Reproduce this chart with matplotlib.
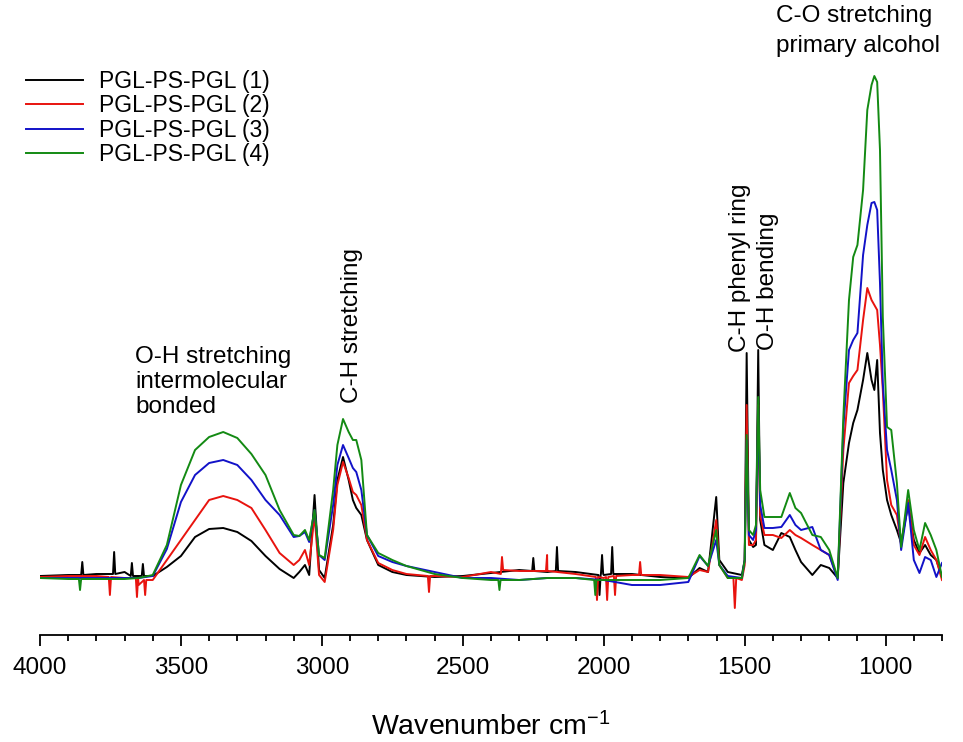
import matplotlib
matplotlib.use("Agg")
import matplotlib.pyplot as plt
import numpy as np

plt.rcParams['font.family'] = ['Liberation Sans', 'DejaVu Sans']
plt.rcParams['mathtext.fontset'] = 'custom'
plt.rcParams['mathtext.rm'] = 'Liberation Sans'
plt.rcParams['mathtext.it'] = 'Liberation Sans'

# ---- data (absorbance in arbitrary units via pixel rows) ----
wavenumber = [4000, 3900, 3800, 3700, 3650, 3600, 3550, 3500, 3450, 3400, 3350, 3300,
              3250, 3200, 3150, 3100, 3080, 3060, 3045, 3026, 3010, 2990, 2960, 2945,
              2925, 2905, 2890, 2878, 2860, 2840, 2800, 2750, 2700, 2600, 2500, 2400,
              2300, 2200, 2100, 2000, 1900, 1800, 1700, 1660, 1630, 1601, 1590, 1560,
              1510, 1500, 1493, 1485, 1470, 1460, 1452, 1445, 1430, 1400, 1370, 1340,
              1320, 1300, 1260, 1230, 1200, 1170, 1150, 1130, 1115, 1100, 1080, 1065,
              1050, 1040, 1030, 1020, 1010, 995, 980, 960, 945, 920, 900, 880, 860,
              840, 820, 800]

pix_black = [576, 575, 574, 572, 576, 576, 567, 556, 537, 529, 528, 532,
             541, 556, 569, 578, 572, 565, 575, 495, 570, 578, 525, 480,
             457, 480, 500, 508, 515, 540, 565, 572, 575, 577, 576, 573,
             570, 572, 572, 575, 574, 577, 578, 568, 572, 497, 560, 572,
             575, 560, 353, 540, 547, 545, 350, 520, 545, 550, 533, 537,
             550, 562, 575, 565, 568, 578, 483, 443, 423, 410, 380, 353,
             380, 390, 360, 433, 470, 500, 515, 530, 543, 505, 540, 553, 545,
             555, 560, 577]
pix_red = [577, 576, 576, 578, 585, 580, 560, 540, 520, 500, 496, 500,
           508, 530, 553, 565, 560, 550, 565, 515, 575, 582, 530, 485,
           462, 478, 492, 495, 505, 540, 563, 570, 574, 576, 577, 572,
           571, 571, 574, 578, 575, 575, 577, 570, 572, 520, 565, 578,
           580, 565, 405, 545, 545, 540, 405, 515, 535, 535, 538, 530,
           535, 538, 545, 550, 555, 578, 450, 383, 376, 370, 320, 288,
           300, 305, 310, 345, 390, 480, 505, 515, 545, 500, 545, 555, 537,
           550, 560, 580]
pix_blue = [578, 578, 578, 578, 578, 576, 549, 502, 475, 463, 460, 465,
            480, 500, 515, 537, 536, 532, 542, 510, 555, 560, 505, 465,
            445, 458, 468, 472, 490, 535, 556, 562, 566, 572, 578, 578,
            580, 578, 578, 580, 585, 585, 582, 556, 566, 540, 565, 576,
            578, 560, 440, 535, 540, 530, 408, 505, 528, 528, 527, 515,
            525, 530, 527, 550, 555, 580, 427, 350, 340, 333, 255, 225,
            203, 202, 210, 283, 383, 450, 470, 500, 550, 503, 560, 573, 557,
            560, 577, 563]
pix_green = [578, 579, 579, 579, 578, 575, 545, 485, 450, 437, 432, 438,
             454, 475, 510, 535, 536, 530, 540, 510, 555, 558, 490, 445,
             419, 432, 440, 440, 460, 535, 553, 560, 566, 574, 578, 580,
             580, 578, 578, 580, 580, 580, 578, 555, 566, 530, 565, 578,
             578, 560, 435, 530, 535, 525, 397, 490, 517, 517, 517, 493,
             508, 513, 535, 537, 550, 578, 417, 300, 257, 245, 190, 110,
             85, 76, 82, 150, 317, 427, 430, 483, 547, 490, 530, 550, 523,
             535, 550, 577]

# narrow noise spikes (wavenumber, pixel row), with their feet
spikes_black = [(3854, 575), (3850, 562), (3846, 575),
                (3741, 574), (3737, 552), (3733, 574),
                (3678, 576), (3674, 563), (3670, 576),
                (3639, 576), (3635, 564), (3631, 576),
                (2254, 571), (2250, 558), (2246, 571),
                (2170, 571), (2166, 547), (2162, 571),
                (2019, 575), (2015, 595), (2011, 575),
                (2010, 574), (2006, 555), (2002, 574),
                (1974, 574), (1970, 547), (1966, 574)]
spikes_red = [(3756, 577), (3752, 595), (3748, 577),
              (3660, 578), (3656, 597), (3652, 578),
              (3631, 580), (3627, 595), (3623, 580),
              (2624, 576), (2620, 592), (2616, 576),
              (2365, 574), (2361, 557), (2357, 570),
              (2205, 571), (2201, 555), (2197, 571),
              (2028, 577), (2024, 600), (2020, 577),
              (1992, 577), (1988, 600), (1984, 577),
              (1964, 576), (1960, 595), (1956, 576),
              (1875, 575), (1871, 562), (1867, 575),
              (1540, 578), (1535, 608), (1530, 578)]
spikes_blue = []
spikes_green = [(3862, 579), (3858, 590), (3854, 579),
                (2374, 580), (2370, 590), (2366, 580),
                (2034, 580), (2030, 595), (2026, 580)]

labels = ['PGL-PS-PGL (1)', 'PGL-PS-PGL (2)', 'PGL-PS-PGL (3)', 'PGL-PS-PGL (4)']
colors = ['#000000', '#e8130e', '#1212c8', '#138a13']


def to_abs(p):
    return (580.0 - np.asarray(p, float)) / 1000.0


def merge(wn, pix, spikes):
    x = list(wn) + [s[0] for s in spikes]
    y = list(pix) + [s[1] for s in spikes]
    order = np.argsort(x)
    return np.asarray(x)[order], to_abs(np.asarray(y)[order])


fig = plt.figure(figsize=(9.63, 7.42), dpi=100)
ax = fig.add_axes([40 / 963, 1 - 635 / 742, (942 - 40) / 963, 635 / 742])

series = [(pix_black, spikes_black), (pix_red, spikes_red),
          (pix_blue, spikes_blue), (pix_green, spikes_green)]
for (pix, sp), lab, col in zip(series, labels, colors):
    x, y = merge(wavenumber, pix, sp)
    ax.plot(x, y, color=col, lw=1.4, label=lab)

ax.set_xlim(4000, 800)
ax.set_ylim(to_abs(635), to_abs(0))
for s in ['left', 'right', 'top']:
    ax.spines[s].set_visible(False)
ax.spines['bottom'].set_linewidth(1.3)
ax.set_yticks([])
ax.set_xticks([4000, 3500, 3000, 2500, 2000, 1500, 1000])
ax.set_xticks(np.arange(800, 4001, 100), minor=True)
ax.tick_params(axis='x', which='major', length=8, width=1.3, labelsize=17.5, pad=8)
ax.tick_params(axis='x', which='minor', length=4.5, width=1.3)
ax.set_xlabel('Wavenumber cm$^{-1}$', fontsize=20.5, labelpad=24)

tfs = 17.5
ax.text(3663, to_abs(346), 'O-H stretching\nintermolecular\nbonded', fontsize=tfs,
        ha='left', va='top', linespacing=1.17)
ax.text(2893, to_abs(403), 'C-H stretching', fontsize=tfs, rotation=90, ha='center', va='bottom')
ax.text(1516, to_abs(352), 'C-H phenyl ring', fontsize=tfs, rotation=90, ha='center', va='bottom')
ax.text(1417, to_abs(350), 'O-H bending', fontsize=tfs, rotation=90, ha='center', va='bottom')
ax.text(1390, to_abs(5), 'C-O stretching\nprimary alcohol', fontsize=tfs,
        ha='left', va='top', linespacing=1.45)

fig.legend(loc='upper left', bbox_to_anchor=(26 / 963, 1 - 70 / 742), frameon=False,
           fontsize=16.5, handlelength=2.5, handletextpad=0.7, labelspacing=0.06,
           borderpad=0, borderaxespad=0)

fig.savefig('out.png', dpi=100)
